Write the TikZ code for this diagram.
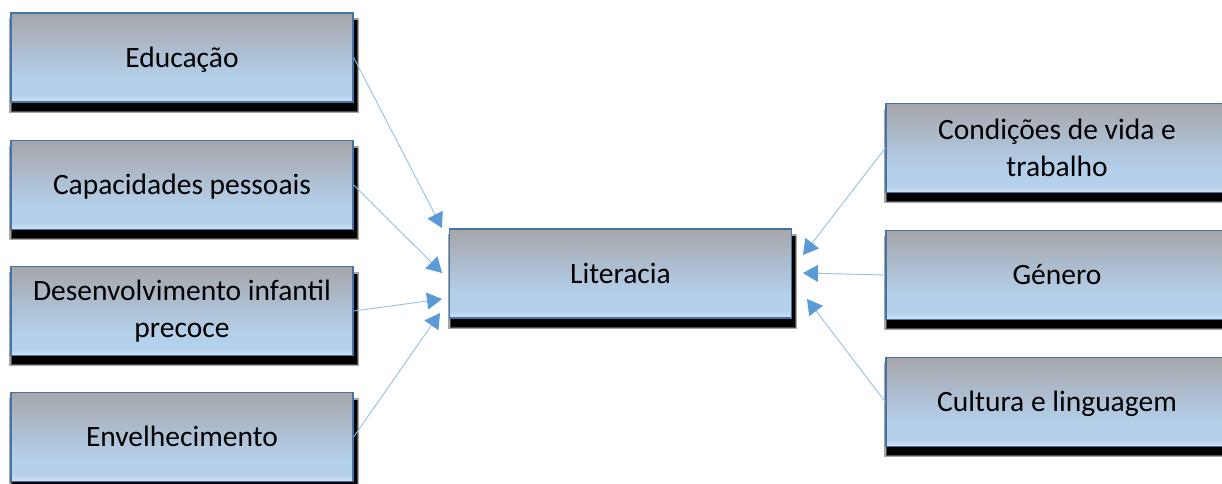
\documentclass[tikz,border=0pt]{standalone}
\usepackage{fontspec}
\setmainfont{Carlito}
\usetikzlibrary{arrows.meta,calc,backgrounds}
\definecolor{bord}{RGB}{70,115,165}
\definecolor{sbA}{RGB}{208,226,243}
\definecolor{sbB}{RGB}{180,208,234}
\definecolor{sbC}{RGB}{174,192,212}
\definecolor{sbD}{RGB}{166,166,169}
\definecolor{lineblue}{RGB}{150,192,230}
\definecolor{tipblue}{RGB}{91,155,213}
\pgfdeclareverticalshading{boxshade}{100bp}{color(0bp)=(sbA); color(25bp)=(sbA); color(29bp)=(sbB); color(38bp)=(sbB); color(52bp)=(sbC); color(75bp)=(sbD); color(100bp)=(sbD)}
\tikzset{
  box/.style={draw=bord, line width=1.3pt, shading=boxshade,
    minimum width=342pt, minimum height=89pt, inner sep=0pt,
    align=center, font=\fontsize{29.5}{36.5}\selectfont},
  oneline/.style={text height=19pt, text depth=0pt},
  conn/.style={draw=lineblue, line width=0.9pt,
    -{Triangle[length=15pt,width=17pt,color=tipblue,fill=tipblue]}}
}
\begin{document}
\begin{tikzpicture}[x=1pt,y=-1pt]
\clip (0,0) rectangle (1222,483);
\node[box,oneline] (edu) at (182,57.5) {Educação};
\node[box,oneline] (cap) at (182,185) {Capacidades pessoais};
\node[box] (des) at (182,311) {Desenvolvimento infantil\\precoce};
\node[box,oneline] (env) at (182,437) {Envelhecimento};
\node[box,oneline] (lit) at (620.5,273.5) {Literacia};
\node[box] (con) at (1057,148) {Condições de vida e\\trabalho};
\node[box,oneline] (gen) at (1057,275) {Género};
\node[box,oneline] (cul) at (1057,402) {Cultura e linguagem};
\begin{pgfonlayer}{background}
\fill[white] (0,0) rectangle (1222,483);
\foreach \n in {edu,cap,des,env,lit,con,gen,cul}{
  \fill[black!35] ($(\n.north west)+(-1,6)$) rectangle ($(\n.south east)+(5,10)$);
  \fill[black!70] ($(\n.north west)+(1,8)$) rectangle ($(\n.south east)+(4,9)$);
  \fill[black] ($(\n.north west)+(2,8)$) rectangle ($(\n.south east)+(3,8)$);
}
\end{pgfonlayer}
\coordinate (t1) at (442,228);
\coordinate (t2) at (442,273);
\coordinate (t3) at (442,299);
\coordinate (t4) at (440,313);
\coordinate (t5) at (803,255);
\coordinate (t6) at (803,273);
\coordinate (t7) at (807,299);
\draw[conn] (edu.east) -- (t1);
\draw[conn] (cap.east) -- (t2);
\draw[conn] (des.east) -- (t3);
\draw[conn] (env.east) -- (t4);
\draw[conn] (con.west) -- (t5);
\draw[conn] (gen.west) -- (t6);
\draw[conn] (cul.west) -- (t7);
\end{tikzpicture}
\end{document}
